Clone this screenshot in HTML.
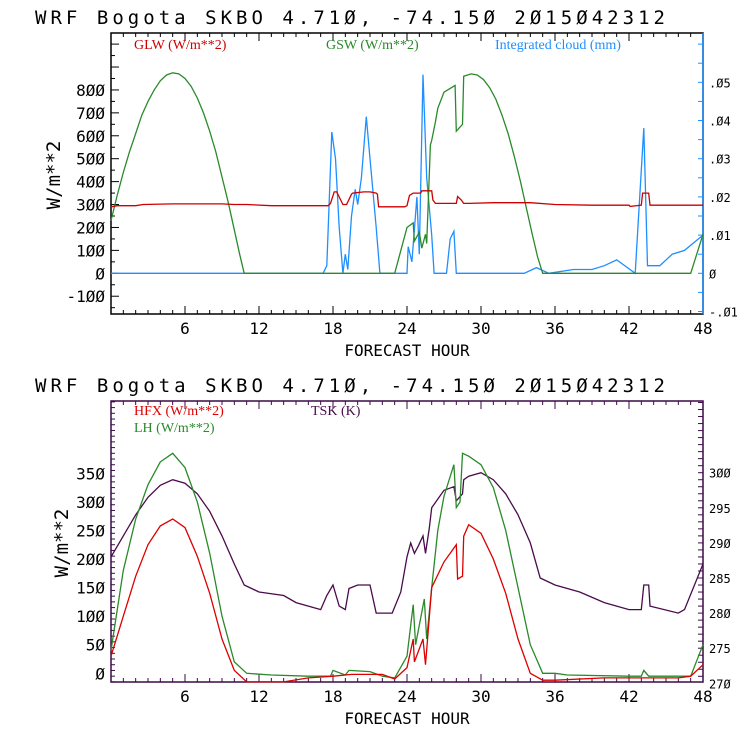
<!DOCTYPE html>
<html><head><meta charset="utf-8"><style>
body{margin:0;background:#fff;width:740px;height:740px;overflow:hidden}
svg{display:block}
.t{font-family:"DejaVu Sans Mono","Liberation Mono",monospace}
.lg{font-family:"Liberation Serif",serif;font-size:14px}
</style></head><body>
<svg id="chart" width="740" height="740" viewBox="0 0 740 740" xmlns="http://www.w3.org/2000/svg"></svg>
<script>
// ---- data: top panel ----
const glwHours = [0,0.5,2,2.6,5,9,10,11,13,15,17.6,17.8,18.1,18.3,18.8,19.1,19.5,19.6,20.5,21,21.5,21.6,21.7,23.8,24,24.2,24.5,25.1,25.2,26,26.1,26.3,28,28.1,28.4,28.6,29,31,33,34,36,39,42,42.1,43,43.1,43.6,43.7,48];
const glwVals  = [290,295,295,300,303,303,300,300,295,295,295,305,355,355,300,300,345,350,355,355,350,345,290,290,295,340,350,350,360,360,320,305,305,335,320,305,305,308,308,308,300,297,297,292,297,350,350,297,297];
const gswHours = [0,0.5,1,1.5,2,2.5,3,3.5,4,4.5,5,5.5,6,6.5,7,7.5,8,8.5,9,9.5,10,10.4,10.8,23,24,24.5,24.6,25,25.2,25.5,25.6,25.9,26,26.3,26.5,27,27.9,28,28.5,28.6,29.2,29.7,30.2,30.7,31.2,31.7,32.2,32.7,33.2,33.7,34.2,34.6,35,47,48];
const gswVals  = [230,340,440,530,610,690,750,800,840,865,875,870,850,815,765,700,620,530,420,310,190,90,0,0,200,220,140,180,110,170,130,560,580,660,720,790,820,620,650,860,870,865,845,810,760,690,610,510,400,280,160,70,0,0,170];
const cloudHours = [0,17.2,17.5,17.9,18.2,18.5,18.8,19,19.2,19.5,19.8,20,20.3,20.7,21,21.5,21.8,24,24.1,24.4,24.8,25,25.3,25.6,26,26.2,27.2,27.5,27.8,28,33.5,34.5,35.5,37.5,39,40,41,42.5,43.2,43.5,44.5,45.5,46.5,48];
const cloudVals  = [0,0,0.002,0.037,0.03,0.012,0,0.005,0.001,0.015,0.022,0.018,0.025,0.041,0.03,0.012,0,0,0.007,0.003,0.02,0.005,0.052,0.025,0.01,0,0,0.009,0.011,0,0,0.0015,0,0.001,0.001,0.002,0.0035,0,0.038,0.002,0.002,0.005,0.006,0.01];
// ---- data: bottom panel ----
const hfxHours = [0,1,2,3,4,5,6,7,8,9,10,11,14,16,18,19.5,22,23,24,24.5,24.6,25.3,25.5,26,27,28,28.1,28.5,28.6,29,30,31,32,33,34,35,36,40,46,47,48];
const hfxVals  = [30,100,170,225,258,270,255,205,140,60,5,-15,-15,-8,-5,-2,-2,-10,10,60,20,60,15,150,195,225,165,170,240,260,245,200,140,60,0,-12,-12,-8,-8,-5,15];
const lhHours = [0,1,2,3,4,5,6,7,8,9,10,11,13,16,17.8,18,19,19.3,21,22,23,24,24.5,24.7,25.4,25.6,26,26.5,27,27.8,28,28.3,28.5,29,30,31,32,33,34,35,36,37,42,43,43.2,43.6,47,48];
const lhVals  = [40,180,270,330,370,385,360,300,210,100,20,0,-3,-5,-5,5,-3,5,3,-5,-8,30,120,50,130,60,150,250,310,365,290,300,385,380,365,325,250,150,50,0,0,-3,-5,-5,5,-5,-5,50];
const tskHours = [0,1,2,3,4,5,6,7,8,9,10,10.8,12,14,15,17,17.5,18,18.5,19,19.3,20,21,21.5,22.8,23.5,24,24.3,24.6,24.9,25.3,25.5,25.8,26,27,27.8,28,28.5,28.6,29,30,31,32,33,34,34.8,36,38,40,42,43,43.2,43.6,43.7,46,46.5,48];
const tskVals  = [288,291,294,296.5,298.2,299,298.5,297,294.5,291,287,284,283,282.5,281.5,280.5,282.5,284,281,280.5,283.5,284,284,280,280,283,288,290,288.5,289.5,291,288.5,292,295,297.5,298,296,297,299,299.5,300,299,297,294,290,285,284,283,281.5,280.5,280.5,284,284,281,280,280.5,287];
const xTicks = [6,12,18,24,30,36,42,48];
const topLeftTicks = [-100,0,100,200,300,400,500,600,700,800];
const topRightTicks = [-0.01,0,0.01,0.02,0.03,0.04,0.05];
const topRightLabels = ['-.01','0','.01','.02','.03','.04','.05'];
const botLeftTicks = [0,50,100,150,200,250,300,350];
const botRightTicks = [270,275,280,285,290,295,300];

const NS='http://www.w3.org/2000/svg';
const svg=document.getElementById('chart');
function mk(tag,attrs,parent){const e=document.createElementNS(NS,tag);for(const k in attrs)e.setAttribute(k,attrs[k]);(parent||svg).appendChild(e);return e;}
function txt(s,attrs,parent){const e=mk('text',attrs,parent);e.textContent=s;return e;}
const X0=111,X1=703;
const xs=h=>X0+(X1-X0)*h/48;

function series(g,hours,vals,ys,color,name){
  const p=hours.map((h,i)=>xs(h).toFixed(1)+','+ys(vals[i]).toFixed(1)).join(' ');
  const e=mk('polyline',{points:p,fill:'none',stroke:color,'stroke-width':1.3},g);
  
  
}

function panel(oy,cfg){
  const g=mk('g',{});
  
  
  const top=oy+33,bot=oy+314;
  const t=txt('WRF  Bogota SKBO    4.71Ø, -74.15Ø  2Ø15Ø42312',{x:35,y:oy+24,'font-size':19,class:'t',fill:'#000','xml:space':'preserve',textLength:630,lengthAdjust:'spacing'},g);
  
  
  mk('rect',{x:X0,y:top,width:X1-X0,height:bot-top,fill:'none',stroke:cfg.frame,'stroke-width':1.5},g);
  if(cfg.rightColor) mk('line',{x1:X1,y1:top,x2:X1,y2:bot,stroke:cfg.rightColor,'stroke-width':1.5},g);
  for(let h=1;h<48;h++){
    const L=(h%6===0)?8:4,x=xs(h);
    mk('line',{x1:x,y1:bot,x2:x,y2:bot-L,stroke:cfg.frame},g);
    mk('line',{x1:x,y1:top,x2:x,y2:top+L,stroke:cfg.frame},g);
  }
  xTicks.forEach(h=>{const e=txt(String(h),{x:xs(h),y:bot+20,'font-size':16,'text-anchor':'middle',class:'t'},g);
    
    });
  const xt=txt('FORECAST HOUR',{x:407,y:bot+42,'font-size':16,'text-anchor':'middle',class:'t'},g);
  
  
  for(let v=cfg.lmin;v<=cfg.lmax;v+=cfg.lminor){const y=cfg.yl(v);if(y<top||y>bot)continue;
    const major=Math.abs(v%cfg.lmajor)<1e-6;mk('line',{x1:X0,y1:y,x2:X0+(major?8:4),y2:y,stroke:cfg.frame},g);}
  cfg.lt.forEach(v=>{const e=txt(String(v).replace(/0/g,'Ø'),{x:X0-6,y:cfg.yl(v)+6,'font-size':16,'text-anchor':'end',class:'t'},g);
    
    });
  const rc=cfg.rightColor||cfg.frame;
  for(let v=cfg.rmin;v<=cfg.rmax+1e-9;v+=cfg.rminor){const y=cfg.yr(v);if(y<top-0.5||y>bot+0.5)continue;
    mk('line',{x1:X1,y1:y,x2:X1-5,y2:y,stroke:rc},g);}
  cfg.rt.forEach((v,i)=>{const e=txt(cfg.rl[i].replace(/0/g,'Ø'),{x:X1+6,y:cfg.yr(v)+5,'font-size':12,class:'t'},g);
    
    });
  const yt=txt('W/m**2',{x:0,y:0,'font-size':19,'text-anchor':'middle',class:'t',transform:`translate(${cfg.ytx},${oy+175}) rotate(-90)`},g);
  
  
  return g;
}

const yTop=v=>273.3-v*0.2292;
const yTopR=v=>273.3-v*3820;
const g1=panel(0,{name:'top-panel',frame:'#000',rightColor:'#1e90ff',yl:yTop,yr:yTopR,lmin:-150,lmax:1000,lminor:50,lmajor:100,lt:topLeftTicks,
  rmin:-0.01,rmax:0.06,rminor:0.005,rt:topRightTicks,rl:topRightLabels,ytx:60});
series(g1,cloudHours,cloudVals,yTopR,'#1e8fff','cloud-line');
series(g1,gswHours,gswVals,yTop,'#2a8a2a','gsw-line');
series(g1,glwHours,glwVals,yTop,'#cc0000','glw-line');
[['GLW (W/m**2)',134,'#cc0000','legend-glw'],['GSW (W/m**2)',326,'#2a8a2a','legend-gsw'],['Integrated cloud (mm)',495,'#1e8fff','legend-cloud']].forEach(a=>{
  const e=txt(a[0],{x:a[1],y:49,fill:a[2],class:'lg'},g1);
  
  });

const yBot=v=>673.3-v*0.5714;
const yBotR=v=>683.3-(v-270)*7.02;
const g2=panel(368,{name:'bottom-panel',frame:'#3c0a46',yl:yBot,yr:yBotR,lmin:-15,lmax:480,lminor:10,lmajor:50,lt:botLeftTicks,
  rmin:270,rmax:310,rminor:1,rt:botRightTicks,rl:botRightTicks.map(String),ytx:68});
series(g2,tskHours,tskVals,yBotR,'#4b0a4b','tsk-line');
series(g2,lhHours,lhVals,yBot,'#2a8a2a','lh-line');
series(g2,hfxHours,hfxVals,yBot,'#dd0000','hfx-line');
[['HFX (W/m**2)',134,415,'#dd0000','legend-hfx'],['LH  (W/m**2)',134,432,'#2a8a2a','legend-lh'],['TSK (K)',311,415,'#4b0a4b','legend-tsk']].forEach(a=>{
  const e=txt(a[0],{x:a[1],y:a[2],fill:a[3],class:'lg','xml:space':'preserve'},g2);
  
  });
</script>
</body></html>
